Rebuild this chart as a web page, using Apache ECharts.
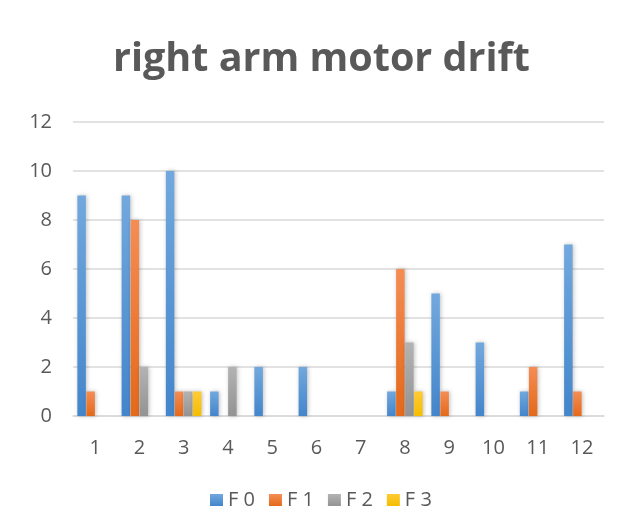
<!DOCTYPE html>
<html><head><meta charset="utf-8">
<script src="https://cdn.jsdelivr.net/npm/echarts@6/dist/echarts.min.js"></script>
<style>html,body{margin:0;padding:0;background:#fff}#c{width:619px;height:530px}</style>
</head><body><div id="c"></div>
<script>
const categories = ['1','2','3','4','5','6','7','8','9','10','11','12'];
const seriesNames = ['F 0','F 1','F 2','F 3'];
const f0 = [9, 9, 10, 1, 2, 2, 0, 1, 5, 3, 1, 7];
const f1 = [1, 8, 1, 0, 0, 0, 0, 6, 1, 0, 2, 1];
const f2 = [0, 2, 1, 2, 0, 0, 0, 3, 0, 0, 0, 0];
const f3 = [0, 0, 1, 0, 0, 0, 0, 1, 0, 0, 0, 0];
const yTicks = [0, 2, 4, 6, 8, 10, 12];

const colors = [['#72a8dd','#4385cb'],['#f48d55','#e4691a'],['#b3b3b3','#939393'],['#ffcb35','#f4bd00']];
function grad(c){return new echarts.graphic.LinearGradient(0,0,0,1,[{offset:0,color:c[0]},{offset:1,color:c[1]}]);}
const chart = echarts.init(document.getElementById('c'));
const data = [f0,f1,f2,f3];
chart.setOption({
  animation:false,
  title:{text:'right arm motor drift',left:108,top:35,textStyle:{fontFamily:'Open Sans',fontWeight:'bold',fontSize:39.5,color:'#595959'}},
  legend:{top:485,left:205,itemWidth:13,itemHeight:12,itemGap:14,icon:'rect',
    textStyle:{fontFamily:'Open Sans',fontSize:20,color:'#595959'},data:seriesNames},
  grid:{left:73,right:15,top:122,bottom:114},
  xAxis:{type:'category',data:categories,axisTick:{show:false},
    axisLine:{lineStyle:{color:'#d9d9d9',width:1.5}},
    axisLabel:{fontFamily:'Open Sans',fontSize:20,color:'#595959',margin:22}},
  yAxis:{type:'value',min:yTicks[0],max:yTicks[yTicks.length-1],interval:2,
    axisLine:{show:false},axisTick:{show:false},
    splitLine:{lineStyle:{color:'#d9d9d9',width:1.5}},
    axisLabel:{fontFamily:'Open Sans',fontSize:20,color:'#595959',margin:21}},
  series: seriesNames.map((n,i)=>({name:n,type:'bar',data:data[i],barWidth:8.5,barGap:'6%',
    itemStyle:{color:grad(colors[i]),shadowColor:'rgba(0,0,0,0.25)',shadowBlur:4,shadowOffsetX:1,shadowOffsetY:0}}))
});
</script></body></html>
